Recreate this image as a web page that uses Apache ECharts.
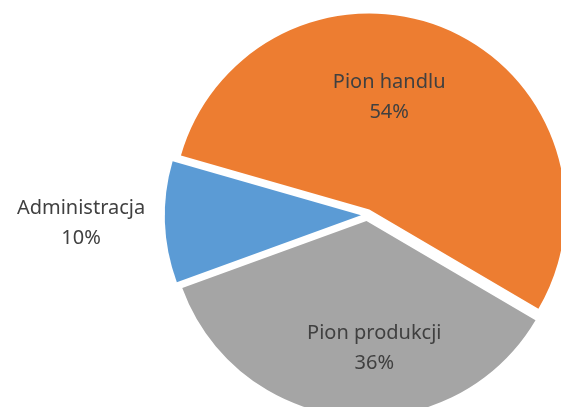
<!DOCTYPE html>
<html>
<head>
<meta charset="utf-8">
<title>Struktura zatrudnienia</title>
<script src="https://cdn.jsdelivr.net/npm/echarts@6.0.0/dist/echarts.min.js"></script>
<style>
  html, body { margin: 0; padding: 0; background: #fff; }
  #chart { width: 561px; height: 407px; }
</style>
</head>
<body>
<div id="chart"></div>
<script>
// dane wykresu
var categories = ['Pion handlu', 'Pion produkcji', 'Administracja'];
var values = [54, 36, 10];
var colors = ['#ED7D31', '#A5A5A5', '#5B9BD5'];
// przesunięcia etykiet (Excel stawia je trochę inaczej niż echarts)
var labelOffsets = [[-20, -19], [17, 27], [-179, 5]];

var chart = echarts.init(document.getElementById('chart'));

var data = categories.map(function (name, i) {
    return {
        name: name,
        value: values[i],
        selected: true,   // "rozsunięte" wycinki jak w Excelu
        itemStyle: { color: colors[i] },
        select: { itemStyle: { color: colors[i] } }
    };
});

var option = {
    animation: false,
    series: [{
        type: 'pie',
        center: [367, 215],
        radius: 196,
        startAngle: 164,
        clockwise: true,
        selectedMode: 'multiple',
        selectedOffset: 6,
        label: {
            show: true,
            position: 'inside',
            formatter: '{b}\n{d}%',
            color: '#404040',
            fontFamily: 'Noto Sans',
            fontSize: 20,
            lineHeight: 30,
            align: 'center'
        },
        labelLine: { show: false },
        labelLayout: function (params) {
            var o = labelOffsets[params.dataIndex];
            return { dx: o[0], dy: o[1] };
        },
        emphasis: { disabled: true },
        data: data
    }]
};

chart.setOption(option);
</script>
</body>
</html>
